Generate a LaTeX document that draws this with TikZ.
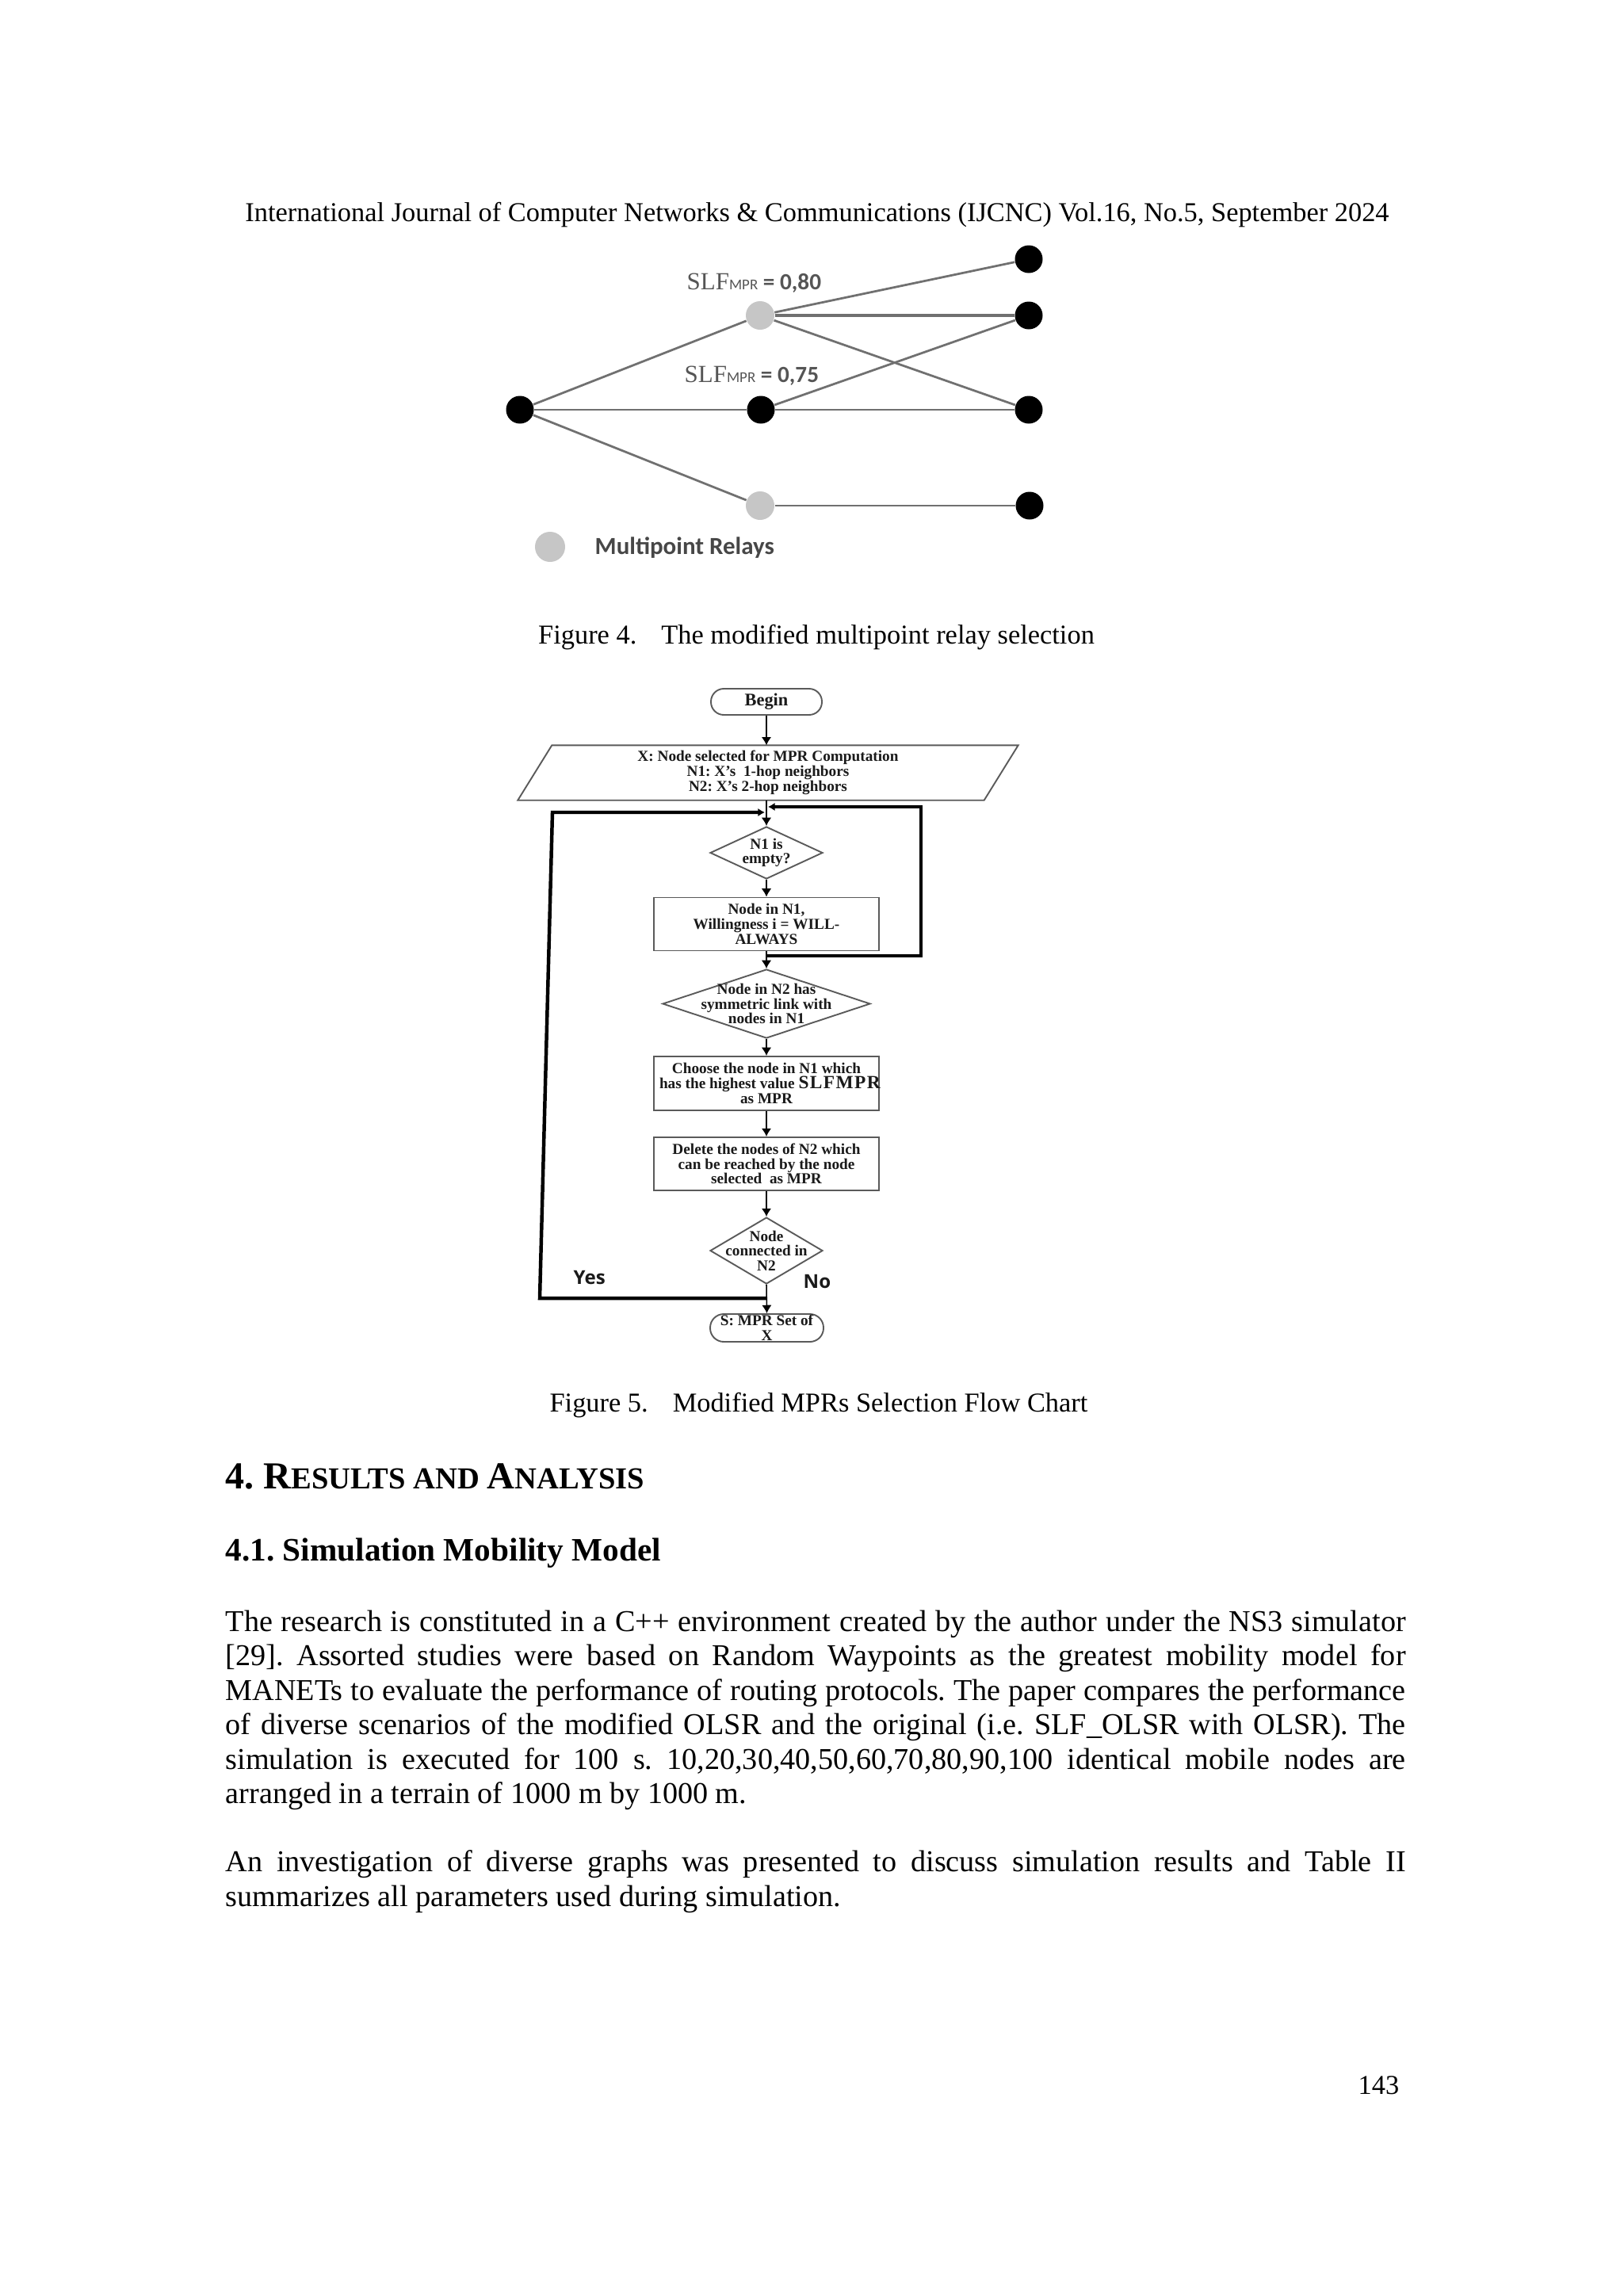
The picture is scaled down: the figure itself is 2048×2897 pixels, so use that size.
\documentclass[tikz,border=0pt]{standalone}
\usepackage{fontspec}
\setmainfont{Liberation Serif}
\newfontfamily\carlito{Carlito}
\newfontfamily\osans{Open Sans}
\newfontfamily\slfont[LetterSpace=6]{Liberation Serif}
\usetikzlibrary{arrows.meta,shapes.geometric}
\newlength\px \setlength\px{0.29066pt}
\definecolor{edgegray}{HTML}{707070}
\definecolor{mprgray}{HTML}{C6C6C6}
\definecolor{lblgray}{HTML}{555555}
\definecolor{shapegray}{HTML}{5A5A5A}
\definecolor{ink}{HTML}{1A1A1A}
\newcommand\jline[1]{\makebox[1489\px][s]{#1}}
\frenchspacing
\begin{document}
\begin{tikzpicture}[x=0.29066pt,y=-0.29066pt,
  pagetext/.style={font=\fontsize{10pt}{12pt}\selectfont, inner sep=0pt, anchor=base},
  bodytext/.style={font=\fontsize{11.1pt}{12.6pt}\selectfont, inner sep=0pt, anchor=base west},
  headtext/.style={inner sep=0pt, anchor=base west},
  graphline/.style={draw=edgegray, line width=0.8pt},
  blacknode/.style={circle, fill=black, minimum size=35\px, inner sep=0pt},
  mprnode/.style={circle, fill=mprgray, minimum size=36\px, inner sep=0pt},
  glabel/.style={anchor=base west, inner sep=0pt, text=lblgray},
  shapeline/.style={draw=shapegray, line width=0.55pt},
  flowtxt/.style={font=\fontsize{5.6pt}{5.435pt}\selectfont\bfseries, text=ink, align=center, inner sep=0pt},
  boxshape/.style={shapeline, rectangle, minimum width=284\px, minimum height=67\px, inner sep=0pt},
  decision/.style={shapeline, diamond, inner sep=0pt, minimum width=142\px},
  terminal/.style={shapeline, rectangle, rounded corners=5pt, minimum width=143\px, minimum height=34\px, inner sep=0pt},
  arr/.style={draw=black, line width=0.45pt, -{Latex[length=3pt,width=3.6pt]}},
  loopline/.style={draw=black, line width=1.3pt, -{Latex[length=2.5pt,width=3pt]}},
  yesno/.style={font=\osans\bfseries\fontsize{7pt}{8pt}\selectfont, text=ink, inner sep=0pt, anchor=base west}
]
\fill[white] (0,0) rectangle (2048,2897);
\useasboundingbox (0,0) rectangle (2048,2897);

% header
\node[pagetext] (header) at (1031,279) {International Journal of Computer Networks \& Communications (IJCNC) Vol.16, No.5, September 2024};

% ---------- Figure 4 ----------
\node[blacknode] (L) at (656,517) {};
\node[mprnode] (MT) at (959,398) {};
\node[blacknode] (MM) at (960,517) {};
\node[mprnode] (MB) at (959,638) {};
\node[blacknode] (R1) at (1298,327) {};
\node[blacknode] (R2) at (1298,398) {};
\node[blacknode] (R3) at (1298,517) {};
\node[blacknode] (R4) at (1299,638) {};
\draw[graphline] (L) -- (MT);
\draw[graphline] (L) -- (MM);
\draw[graphline] (L) -- (MB);
\draw[graphline] (MT) -- (R1);
\draw[graphline, line width=1.1pt] (MT) -- (R2);
\draw[graphline] (MT) -- (R3);
\draw[graphline] (MM) -- (R2);
\draw[graphline] (MM) -- (R3);
\draw[graphline] (MB) -- (R4);
\node[glabel] (lab80) at (866,365) {{\fontsize{9pt}{10pt}\selectfont SLF}{\carlito\fontsize{5.5pt}{6pt}\selectfont MPR}{\carlito\bfseries\fontsize{8.5pt}{10pt}\selectfont\ = 0,80}};
\node[glabel] (lab75) at (863,482) {{\fontsize{9pt}{10pt}\selectfont SLF}{\carlito\fontsize{5.5pt}{6pt}\selectfont MPR}{\carlito\bfseries\fontsize{8.5pt}{10pt}\selectfont\ = 0,75}};
\node[mprnode, minimum size=38\px] (legdot) at (694,690) {};
\node[anchor=base west, inner sep=0pt, font=\carlito\bfseries\fontsize{9pt}{11pt}\selectfont, text=black!72] (legtxt) at (750,699) {Multipoint Relays};

\node[pagetext] (cap4) at (1030,812.5) {Figure 4.\hspace{9pt}The modified multipoint relay selection};

% ---------- Figure 5 (flow chart) ----------
\node[shapeline, rectangle, rounded corners=4.7pt, minimum width=140\px, minimum height=33\px, inner sep=0pt,
      label={[font=\fontsize{6.5pt}{7pt}\selectfont\bfseries, text=ink, inner sep=0pt]center:Begin}] (begin) at (967,885.5) {};
\node[rectangle, minimum width=544\px, minimum height=68\px, inner sep=0pt,
      label={[flowtxt]center:{X: Node selected for MPR Computation\\N1: X’s\ \ 1-hop neighbors\\N2: X’s 2-hop neighbors}}] (para) at (969,975) {};
\draw[shapeline] (para.north west) -- ([xshift=43\px]para.north east) -- (para.south east) -- ([xshift=-43\px]para.south west) -- cycle;

\node[decision, minimum height=66\px,
      label={[flowtxt]center:{N1 is\\empty?}}] (d1) at (967,1076) {};
\node[boxshape, label={[flowtxt]center:{Node in N1,\\Willingness i = WILL-\\ALWAYS}}] (b1) at (967,1166) {};
\node[decision, minimum width=262\px, minimum height=87\px,
      label={[flowtxt]center:{Node in N2 has\\symmetric link with\\nodes in N1}}] (d2) at (967,1266.5) {};
\node[boxshape, minimum height=68\px,
      label={[flowtxt]center:{Choose the node in N1 which\\\makebox[270\px][l]{has the highest value {\slfont\fontsize{6.8pt}{6.8pt}\selectfont\bfseries SLFMPR}}\\as MPR}}] (b2) at (967,1367) {};
\node[boxshape, label={[flowtxt]center:{Delete the nodes of N2 which\\can be reached by the node\\selected\ \ as MPR}}] (b3) at (967,1468.5) {};
\node[decision, minimum height=84\px,
      label={[flowtxt]center:{Node\\connected in\\N2}}] (d3) at (967,1578) {};
\node[terminal, minimum height=35\px, label={[flowtxt]center:{S: MPR Set of\\X}}] (term) at (967.5,1675.5) {};

\draw[arr] (begin.south) -- (begin.south |- para.north);
\draw[arr] (d1.north |- para.south) -- (d1.north);
\draw[arr] (d1.south) -- (b1.north);
\draw[arr] (b1.south) -- (d2.north);
\draw[arr] (d2.south) -- (b2.north);
\draw[arr] (b2.south) -- (b3.north);
\draw[arr] (b3.south) -- (d3.north);
\draw[arr] (d3.south) -- (term.north);

% loops
\coordinate (jb) at (967,1638);
\coordinate (bl) at (681,1638);
\coordinate (tl) at (697,1025);
\coordinate (jl) at (965,1025);
\draw[loopline] (jb) -- (bl) -- (tl) -- (jl);
\coordinate (jr0) at (967,1206);
\coordinate (br) at (1162,1206);
\coordinate (tr) at (1162,1018);
\coordinate (jr) at (969,1018);
\draw[loopline] (jr0) -- (br) -- (tr) -- (jr);

\node[yesno] (yes) at (723,1620) {Yes};
\node[yesno] (no) at (1013,1625) {No};

\node[pagetext] (cap5) at (1033,1781) {Figure 5.\hspace{9pt}Modified MPRs Selection Flow Chart};

% ---------- Section text ----------
\node[headtext] (h4) at (284,1878) {\bfseries{\fontsize{14pt}{16pt}\selectfont 4. R}{\fontsize{11.2pt}{13pt}\selectfont ESULTS AND }{\fontsize{14pt}{16pt}\selectfont A}{\fontsize{11.2pt}{13pt}\selectfont NALYSIS}};
\node[headtext, font=\fontsize{12pt}{14pt}\selectfont\bfseries] (h41) at (284,1969) {4.1. Simulation Mobility Model};

\node[bodytext] (l1) at (284,2058) {\jline{The research is constituted in a C++ environment created by the author under the NS3 simulator}};
\node[bodytext] (l2) at (284,2101.5) {\jline{[29]. Assorted studies were based on Random Waypoints as the greatest mobility model for}};
\node[bodytext] (l3) at (284,2145) {\jline{MANETs to evaluate the performance of routing protocols. The paper compares the performance}};
\node[bodytext] (l4) at (284,2188.5) {\jline{of diverse scenarios of the modified OLSR and the original (i.e. SLF\_OLSR with OLSR). The}};
\node[bodytext] (l5) at (284,2232) {\jline{simulation is executed for 100 s. 10,20,30,40,50,60,70,80,90,100 identical mobile nodes are}};
\node[bodytext] (l6) at (284,2275.5) {arranged in a terrain of 1000 m by 1000 m.};
\node[bodytext] (l7) at (284,2361) {\jline{An investigation of diverse graphs was presented to discuss simulation results and Table II}};
\node[bodytext] (l8) at (284,2405) {summarizes all parameters used during simulation.};

\node[pagetext, anchor=base east] (pageno) at (1766,2642) {143};
\end{tikzpicture}
\end{document}
